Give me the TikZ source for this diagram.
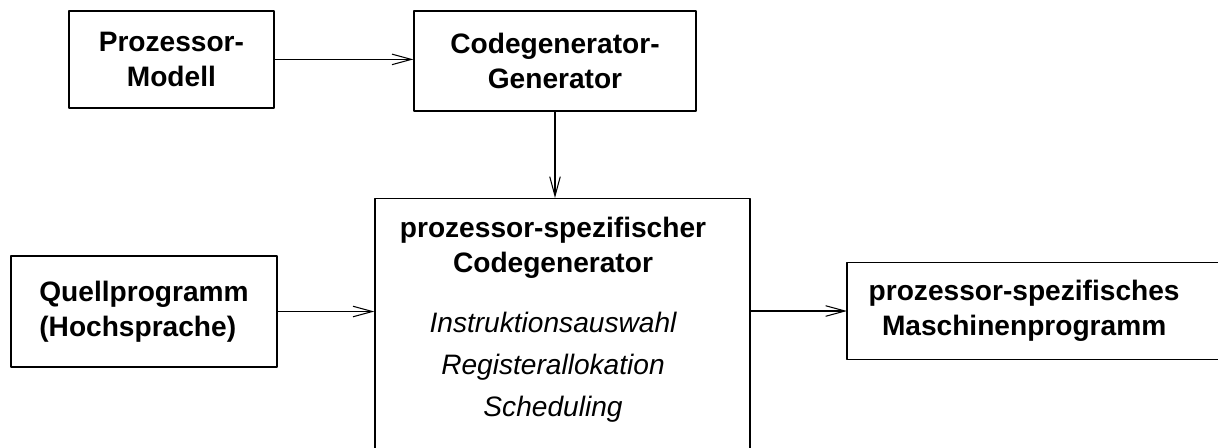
\documentclass[tikz,border=0pt]{standalone}
\usepackage{fontspec}
\setmainfont{Liberation Sans}
\usetikzlibrary{arrows.meta}
\begin{document}
\begin{tikzpicture}[x=0.02cm, y=-0.02cm, line join=round, >={Straight Barb[length=11pt,width=6pt]},
		box/.style={draw, line width=0.8pt, inner sep=0pt, align=center, font=\fontsize{16}{20}\selectfont\bfseries},
		task/.style={inner sep=0pt, align=center, font=\fontsize{16}{24}\selectfont\itshape},
		conn/.style={->, line width=0.6pt}]
	\useasboundingbox (0,0) rectangle (1218,447);
	\clip (0,0) rectangle (1218,447);
	% obere Reihe
	\node[box, minimum width=4.1cm, minimum height=1.94cm] (modell) at (171.4,59.4) {Prozessor-\\Modell};
	\node[box, minimum width=5.64cm, minimum height=2.0cm] (cgg) at (555,61) {Codegenerator-\\Generator};
	% mittlere Reihe
	\node[box, minimum width=5.32cm, minimum height=2.22cm, align=left] (quell) at (144,311.5) {Quellprogramm\\(Hochsprache)};
	\node[box, minimum width=7.5cm, minimum height=6cm, anchor=north] (pcg) at (562.5,198) {};
	\node[box, draw=none] (pcghead) at (553,247.5) {prozessor-spezifischer\\Codegenerator};
	\node[task] (pcgtasks) at (553,367.5) {Instruktionsauswahl\\Registerallokation\\Scheduling};
	\node[box, draw=none, inner xsep=0.42cm, minimum height=1.92cm, anchor=west] (masch) at (847,311) {prozessor-spezifisches\\Maschinenprogramm};
	\draw[line width=0.8pt] ([xshift=2cm]masch.north east) -- (masch.north west) -- (masch.south west) -- ([xshift=2cm]masch.south east);
	% Verbindungen
	\draw[conn] (modell.east) -- (modell.east -| cgg.west);
	\draw[conn] (cgg.south) -- (cgg.south |- pcg.north);
	\draw[conn] (quell.east) -- (quell.east -| pcg.west);
	\draw[conn] (masch.west -| pcg.east) -- (masch.west);
\end{tikzpicture}
\end{document}
